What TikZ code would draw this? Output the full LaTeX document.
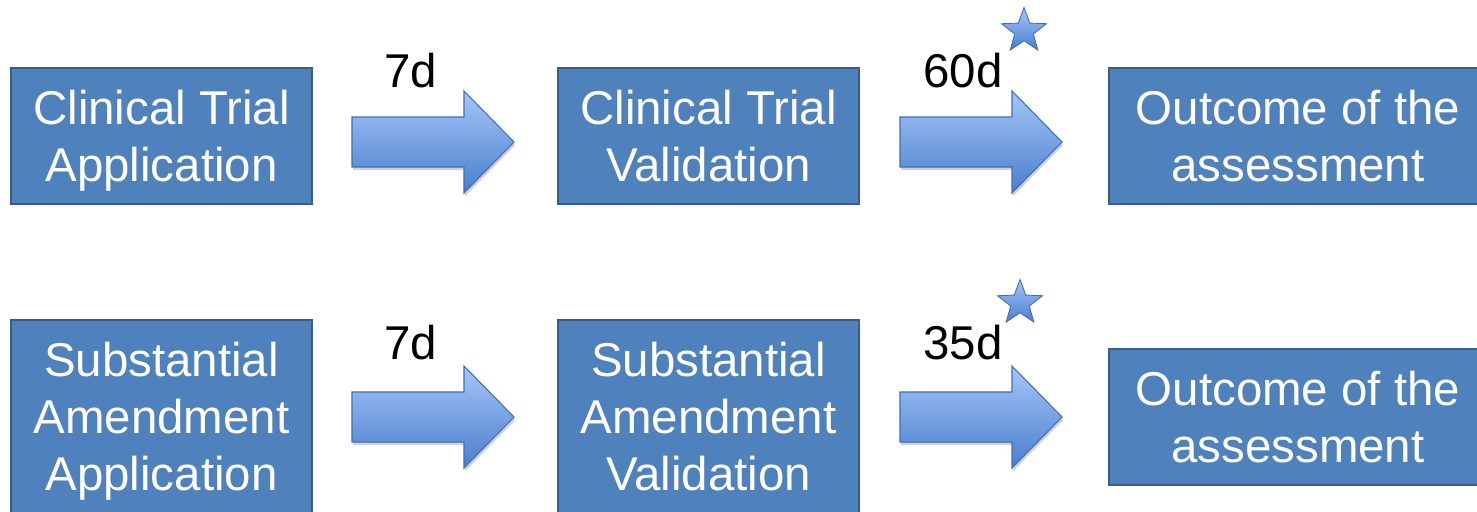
\documentclass[tikz,border=0pt]{standalone}
\usepackage{fontspec}
\setmainfont{Liberation Sans}
\usetikzlibrary{shapes.geometric,shadows}
\definecolor{boxblue}{HTML}{4F81BD}
\definecolor{boxline}{HTML}{385D8A}
\definecolor{arrtop}{HTML}{A5C6F8}
\definecolor{arrbot}{HTML}{4A7ECE}
\definecolor{arrline}{HTML}{3F6FBA}
\tikzset{%
  sbox/.style={draw=boxline,line width=1.1pt,fill=boxblue,text=white,align=center,inner sep=0,
    text depth=0pt,minimum width=6.02cm,minimum height=2.72cm,font=\fontsize{27}{32.5}\selectfont},
  wbox/.style={sbox,minimum width=7.56cm},
  tbox/.style={sbox,minimum height=3.86cm},
  days/.style={anchor=base,font=\fontsize{27}{32.5}\selectfont},
  bstar/.style={star,star points=5,star point ratio=2.4,minimum size=0.94cm,inner sep=0,
    draw=arrline,line width=0.5pt,top color=arrtop,bottom color=arrbot},
  barrow/.style={draw=arrline,line width=0.6pt,top color=arrtop,bottom color=arrbot,
    drop shadow={shadow xshift=0.6pt,shadow yshift=-1.8pt,opacity=0.3,fill=black!60}}
}
\begin{document}
\begin{tikzpicture}[x=0.02cm,y=-0.02cm]
      \clip (0,0) rectangle (1477,511);
      \foreach \x/\y in {352/142,900/142,352/417,900/417}
        \draw[barrow] (\x,\y) +(0,-25) -- +(112,-25) -- +(112,-51) -- +(162,0)
          -- +(112,51) -- +(112,25) -- +(0,25) -- cycle;
      \path
        (161.5,136) node[sbox] (app_1) {Clinical Trial\\Application}
        (708.5,136) node[sbox] (val_1) {Clinical Trial\\Validation}
        (1298,136) node[wbox] (out_1) {Outcome of the\\assessment}
        (161.5,416.5) node[tbox] (app_2) {Substantial\\Amendment\\Application}
        (708.5,416.5) node[tbox] (val_2) {Substantial\\Amendment\\Validation}
        (1298,417) node[wbox] (out_2) {Outcome of the\\assessment};
      \path
        (411,87) node[days] (d_1) {7d}
        (963,87) node[days] (d_2) {60d}
        (411,359) node[days] (d_3) {7d}
        (963,359) node[days] (d_4) {35d};
      \path
        (1024,31) node[bstar] (s_1) {}
        (1020,303) node[bstar] (s_2) {};
    \end{tikzpicture}
\end{document}
